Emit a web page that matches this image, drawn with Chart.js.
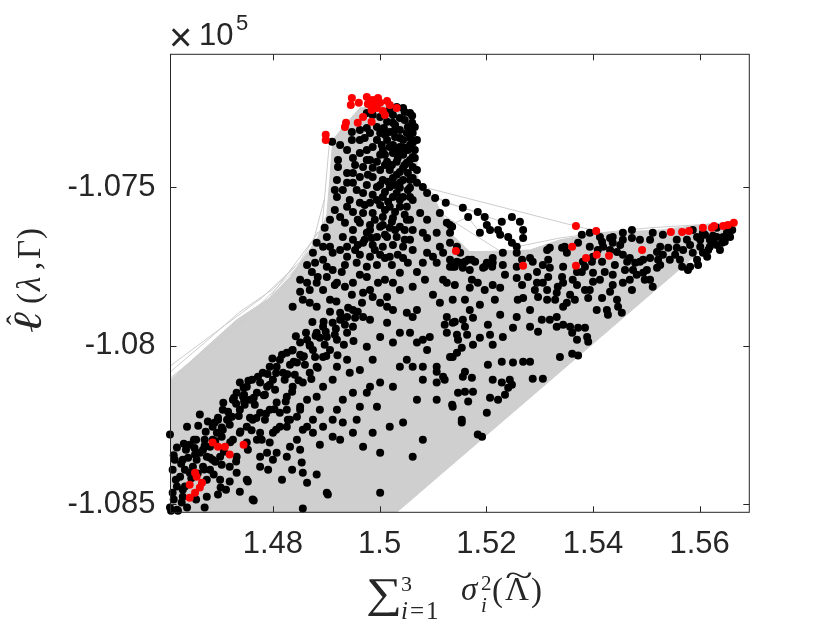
<!DOCTYPE html>
<html>
<head>
<meta charset="utf-8">
<script src="https://cdn.jsdelivr.net/npm/chart.js@4.4.1/dist/chart.umd.min.js"></script>
<style>
  html, body { margin: 0; padding: 0; background: #fff; }
  #wrap { width: 830px; height: 623px; }
</style>
</head>
<body>
<div id="wrap"><canvas id="plot" width="830" height="623"></canvas></div>
<script>
// Axis limits and ticks (y values are in units of 10^5)
const xMin = 1.4608, xMax = 1.5693;
const yMin = -1.08525, yMax = -1.07081;
const xTicks = [1.48, 1.5, 1.52, 1.54, 1.56];
const xTickLabels = ['1.48', '1.5', '1.52', '1.54', '1.56'];
const yTicks = [-1.085, -1.08, -1.075];
const yTickLabels = ['-1.085', '-1.08', '-1.075'];

// Red (highlighted) solutions
const redPts = [
  [1.4948,-1.07219],[1.4946,-1.07241],[1.4961,-1.07234],[1.4976,-1.07216],[1.4987,-1.07225],[1.4997,-1.07219],
  [1.4991,-1.07241],[1.5001,-1.07234],[1.5014,-1.07228],[1.5019,-1.07241],[1.5032,-1.07250],[1.4985,-1.07257],
  [1.5006,-1.07260],[1.5010,-1.07272],[1.4969,-1.07279],[1.4959,-1.07297],[1.4937,-1.07297],[1.4935,-1.07310],
  [1.4985,-1.07294],[1.4899,-1.07335],[1.4899,-1.07351],[1.4978,-1.07238],[1.4995,-1.07250],
  [1.5143,-1.07701],[1.5368,-1.07622],[1.5406,-1.07638],[1.5361,-1.07688],[1.5269,-1.07748],[1.5368,-1.07748],
  [1.5387,-1.07723],[1.5407,-1.07713],[1.5430,-1.07716],[1.5492,-1.07698],[1.5546,-1.07641],[1.5567,-1.07641],
  [1.5580,-1.07638],[1.5606,-1.07628],[1.5623,-1.07628],[1.5627,-1.07622],[1.5644,-1.07622],[1.5653,-1.07619],
  [1.5664,-1.07612],
  [1.4687,-1.08305],[1.4697,-1.08318],[1.4710,-1.08318],[1.4719,-1.08343],[1.4745,-1.08312],[1.4654,-1.08400],
  [1.4657,-1.08413],[1.4667,-1.08432],[1.4663,-1.08447],[1.4644,-1.08438],[1.4654,-1.08463],[1.4644,-1.08479]
];

// Black solutions: the vertical column
const columnPts = [
  [1.5032,-1.07247],[1.5044,-1.07250],[1.5057,-1.07266],[1.4976,-1.07266],[1.4987,-1.07272],[1.5001,-1.07279],
  [1.5025,-1.07272],[1.5038,-1.07282],[1.5061,-1.07297],[1.5025,-1.07297],[1.5014,-1.07294],[1.4995,-1.07310],
  [1.4976,-1.07313],[1.4963,-1.07320],[1.4948,-1.07326],[1.4982,-1.07329],[1.5001,-1.07329],[1.5019,-1.07326],
  [1.5038,-1.07320],[1.5051,-1.07329],[1.5062,-1.07329],[1.5029,-1.07342],[1.5044,-1.07351],[1.5062,-1.07360],
  [1.5014,-1.07351],[1.4995,-1.07351],[1.4963,-1.07351],[1.4948,-1.07351],[1.4926,-1.07367],[1.4911,-1.07357],
  [1.4939,-1.07383],[1.4976,-1.07383],[1.4987,-1.07373],[1.5019,-1.07373],[1.5038,-1.07373],[1.5053,-1.07383],
  [1.5066,-1.07383],[1.4963,-1.07392],[1.5001,-1.07398],[1.5025,-1.07392],[1.5044,-1.07398],[1.5062,-1.07405],
  [1.4950,-1.07408],[1.4976,-1.07414],[1.4995,-1.07420],[1.5014,-1.07420],[1.5032,-1.07420],[1.5051,-1.07423],
  [1.5062,-1.07436],[1.4969,-1.07436],[1.4987,-1.07439],[1.5019,-1.07446],[1.5038,-1.07452],[1.5053,-1.07455],
  [1.4922,-1.07414],[1.4922,-1.07436],[1.4939,-1.07455],[1.4950,-1.07455],[1.4963,-1.07468],[1.4987,-1.07468],
  [1.5006,-1.07477],[1.5025,-1.07471],[1.5044,-1.07477],[1.5062,-1.07471],[1.4920,-1.07477],[1.4939,-1.07486],
  [1.4976,-1.07493],[1.4995,-1.07499],[1.5019,-1.07499],[1.5038,-1.07502],[1.5053,-1.07509],[1.4916,-1.07509],
  [1.4931,-1.07509],[1.4957,-1.07509],[1.4969,-1.07518],[1.4987,-1.07524],[1.5006,-1.07531],[1.5025,-1.07531],
  [1.5044,-1.07531],[1.4920,-1.07531],[1.4944,-1.07540],[1.4963,-1.07549],[1.4982,-1.07549],[1.5001,-1.07556],
  [1.5019,-1.07562],[1.5038,-1.07562],[1.4939,-1.07562],[1.4950,-1.07578],[1.4969,-1.07581],[1.4987,-1.07581],
  [1.5006,-1.07594],[1.5025,-1.07597],[1.5051,-1.07603],[1.4926,-1.07594],[1.4907,-1.07603],[1.4935,-1.07612],
  [1.4963,-1.07612],[1.4982,-1.07619],[1.5001,-1.07625],[1.5019,-1.07628],[1.5038,-1.07625],[1.4950,-1.07635],
  [1.4976,-1.07644],[1.4995,-1.07657],[1.5014,-1.07657],[1.5032,-1.07657],[1.4901,-1.07657],[1.4882,-1.07675],
  [1.4894,-1.07688],[1.4907,-1.07688],[1.4926,-1.07698],[1.4939,-1.07688],[1.4950,-1.07666],[1.4969,-1.07675],
  [1.4987,-1.07682],[1.5006,-1.07688],[1.5025,-1.07682],[1.4875,-1.07707],[1.4912,-1.07707],[1.4939,-1.07719],
  [1.4963,-1.07713],[1.4982,-1.07719],[1.5001,-1.07713],[1.5019,-1.07719],[1.4957,-1.07738],[1.4976,-1.07751],
  [1.4995,-1.07745],[1.4864,-1.07745],[1.4879,-1.07738],[1.4894,-1.07729],[1.4901,-1.07751],[1.4912,-1.07761],
  [1.4929,-1.07767],[1.4873,-1.07767],[1.4884,-1.07783],[1.4901,-1.07783],[1.4851,-1.07792],[1.4864,-1.07801],
  [1.4882,-1.07801],[1.4894,-1.07824],[1.4920,-1.07801],[1.4935,-1.07814],[1.4950,-1.07801],[1.4963,-1.07776],
  [1.4976,-1.07783],[1.4982,-1.07824],[1.4969,-1.07833],[1.4987,-1.07846],[1.4967,-1.07864],[1.5001,-1.07864],
  [1.5014,-1.07846],[1.4856,-1.07855],[1.4869,-1.07864],[1.4882,-1.07877],[1.4837,-1.07877],[1.4851,-1.07830],
  [1.4997,-1.07801],
  [1.5070,-1.07486],[1.5081,-1.07499],[1.5089,-1.07518],[1.5104,-1.07534],[1.5124,-1.07549],[1.5062,-1.07540],
  [1.5051,-1.07562],[1.5076,-1.07581],[1.5089,-1.07603],[1.5113,-1.07581],[1.5126,-1.07612],[1.5136,-1.07625],
  [1.5062,-1.07635],[1.5081,-1.07644],[1.5089,-1.07660],[1.5107,-1.07644],[1.5113,-1.07688],[1.5044,-1.07688],
  [1.5062,-1.07698],[1.5089,-1.07707],[1.5100,-1.07719],[1.5119,-1.07707],[1.5132,-1.07729],[1.5053,-1.07738],
  [1.5081,-1.07738],[1.5107,-1.07738],[1.5137,-1.07751],[1.5038,-1.07770],[1.5070,-1.07767],[1.5085,-1.07792],
  [1.5119,-1.07792],[1.5025,-1.07801],[1.5038,-1.07824],[1.5062,-1.07814],[1.5113,-1.07864],[1.5070,-1.07887],
  [1.5014,-1.07877],[1.5066,-1.07310],[1.5070,-1.07351],[1.5066,-1.07408],[1.5070,-1.07446],
  [1.5126,-1.07801],[1.5137,-1.07855],[1.5100,-1.07839]
];

// Black solutions: the darkest part of the column
const columnCorePts = [
  [1.5019,-1.07257],[1.5047,-1.07263],[1.5029,-1.07304],[1.5053,-1.07310],[1.5010,-1.07335],[1.5038,-1.07345],
  [1.5057,-1.07345],[1.5025,-1.07367],[1.5047,-1.07376],[1.5010,-1.07398],[1.5034,-1.07408],[1.5057,-1.07414],
  [1.5023,-1.07430],[1.5044,-1.07439],[1.5001,-1.07446],[1.5032,-1.07461],[1.5016,-1.07483],[1.5038,-1.07486],
  [1.5057,-1.07502],[1.5010,-1.07515],[1.5032,-1.07518],[1.5057,-1.07531],[1.5016,-1.07546],[1.5038,-1.07540],
  [1.5029,-1.07578],[1.5047,-1.07587],[1.5006,-1.07619],[1.5023,-1.07609],[1.5047,-1.07635],[1.5010,-1.07650],
  [1.4991,-1.07698],[1.5010,-1.07723],[1.5034,-1.07713],[1.4982,-1.07635],[1.5047,-1.07288],[1.5057,-1.07367],
  [1.5032,-1.07383],[1.5006,-1.07383],[1.5047,-1.07430],[1.5029,-1.07493],[1.5057,-1.07477],[1.5010,-1.07572],
  [1.5029,-1.07635],[1.5047,-1.07666],[1.4991,-1.07603],[1.4972,-1.07666],[1.4954,-1.07698],
  [1.5008,-1.07313],[1.5027,-1.07323],[1.5061,-1.07275],[1.4972,-1.07345],[1.5004,-1.07367],[1.5034,-1.07389],
  [1.4982,-1.07414],[1.5010,-1.07430],[1.4954,-1.07430],[1.4978,-1.07461],[1.5001,-1.07493],[1.4950,-1.07486],
  [1.4972,-1.07556],[1.4995,-1.07540],[1.4959,-1.07603],[1.4985,-1.07660],[1.4959,-1.07682],[1.4931,-1.07657],
  [1.4916,-1.07572],[1.4897,-1.07628],[1.4935,-1.07745],[1.4916,-1.07808],[1.4948,-1.07839],[1.4869,-1.07824],
  [1.4907,-1.07855],[1.5023,-1.07745],[1.5010,-1.07792],[1.5044,-1.07723],[1.5057,-1.07603],[1.5057,-1.07666]
];

// Black solutions: the lower-left diagonal band
const bandPts = [
  [1.4607,-1.08280],[1.4620,-1.08321],[1.4639,-1.08255],[1.4663,-1.08217],[1.4644,-1.08312],[1.4616,-1.08359],
  [1.4631,-1.08359],[1.4612,-1.08391],[1.4626,-1.08413],[1.4620,-1.08444],[1.4612,-1.08463],[1.4607,-1.08510],
  [1.4620,-1.08517],[1.4631,-1.08476],[1.4635,-1.08444],[1.4644,-1.08400],[1.4650,-1.08381],[1.4657,-1.08359],
  [1.4663,-1.08337],[1.4669,-1.08328],[1.4676,-1.08350],[1.4682,-1.08318],[1.4669,-1.08381],[1.4676,-1.08422],
  [1.4687,-1.08296],[1.4687,-1.08255],[1.4695,-1.08274],[1.4704,-1.08287],[1.4706,-1.08265],[1.4714,-1.08233],
  [1.4706,-1.08202],[1.4723,-1.08224],[1.4725,-1.08170],[1.4738,-1.08202],[1.4732,-1.08148],[1.4744,-1.08161],
  [1.4738,-1.08116],[1.4751,-1.08129],[1.4761,-1.08107],[1.4757,-1.08170],[1.4770,-1.08148],[1.4776,-1.08116],
  [1.4781,-1.08085],[1.4789,-1.08129],[1.4800,-1.08107],[1.4794,-1.08066],[1.4807,-1.08066],[1.4813,-1.08044],
  [1.4819,-1.08085],[1.4826,-1.08022],[1.4837,-1.08013],[1.4845,-1.08053],[1.4851,-1.07990],[1.4864,-1.07981],
  [1.4856,-1.08035],[1.4875,-1.08013],[1.4882,-1.07959],[1.4894,-1.07940],[1.4901,-1.07972],[1.4912,-1.07927],
  [1.4926,-1.07918],[1.4926,-1.07896],[1.4939,-1.07909],[1.4950,-1.07887],[1.4959,-1.07893],[1.4969,-1.07909],
  [1.4950,-1.07940],[1.4939,-1.07959],[1.4920,-1.07981],[1.4907,-1.08013],[1.4894,-1.08035],[1.4882,-1.08066],
  [1.4869,-1.08085],[1.4856,-1.08116],[1.4837,-1.08129],[1.4826,-1.08161],[1.4807,-1.08179],[1.4794,-1.08202],
  [1.4776,-1.08211],[1.4762,-1.08233],[1.4751,-1.08255],[1.4738,-1.08274],[1.4725,-1.08296],[1.4701,-1.08350],
  [1.4687,-1.08359],[1.4682,-1.08391],[1.4676,-1.08476],[1.4701,-1.08422],[1.4719,-1.08381],[1.4732,-1.08350],
  [1.4751,-1.08305],[1.4770,-1.08296],[1.4776,-1.08274],[1.4794,-1.08305],[1.4800,-1.08274],[1.4813,-1.08255],
  [1.4832,-1.08233],[1.4845,-1.08224],[1.4875,-1.08233],[1.4888,-1.08202],[1.4920,-1.08202],[1.4931,-1.08170],
  [1.4950,-1.08148],[1.4976,-1.08148],[1.4963,-1.08192],[1.4995,-1.08192],[1.5001,-1.08116],[1.5025,-1.08129],
  [1.5038,-1.08066],[1.5051,-1.08044],[1.5062,-1.08066],[1.5070,-1.07990],[1.5089,-1.08013],[1.5107,-1.08066],
  [1.5119,-1.08098],[1.5107,-1.08116],[1.5126,-1.07959],[1.5132,-1.08035],[1.5137,-1.08192],[1.5081,-1.08296],
  [1.5062,-1.08350],[1.5001,-1.08337],[1.5001,-1.08463],[1.4901,-1.08463],[1.4856,-1.08400],[1.4854,-1.08368],
  [1.4882,-1.08406],[1.4856,-1.08513],[1.4762,-1.08485],[1.4751,-1.08422],[1.4732,-1.08400],[1.4826,-1.08350],
  [1.4807,-1.08337],[1.4789,-1.08337],[1.4776,-1.08350],[1.4851,-1.08328],[1.4832,-1.08318],[1.4845,-1.08296],
  [1.4875,-1.08274],[1.4864,-1.08255],[1.4894,-1.08255],[1.4912,-1.08233],[1.4931,-1.08242],[1.4957,-1.08233],
  [1.4987,-1.08274],[1.4969,-1.08318],[1.4950,-1.08274],[1.5025,-1.07990],[1.5038,-1.07959],[1.5014,-1.07927],
  [1.5001,-1.07972],[1.4976,-1.08003],[1.4987,-1.08044],[1.4963,-1.08076],[1.4944,-1.08085],[1.4939,-1.08044],
  [1.4920,-1.08066],[1.4912,-1.08107],[1.4894,-1.08129],[1.4882,-1.08161],[1.4864,-1.08170],[1.4851,-1.08192],
  [1.4826,-1.08202],[1.5051,-1.07896],[1.5062,-1.07909],[1.5057,-1.07959],[1.5025,-1.07887],[1.4982,-1.07918],
  [1.5126,-1.07909],[1.5137,-1.07927],[1.5081,-1.07981],[1.5094,-1.07972],[1.5145,-1.08022],[1.5122,-1.07934],
  [1.5147,-1.07981],[1.5081,-1.08066],[1.5107,-1.08082],[1.5122,-1.08107],[1.5081,-1.08107],[1.5070,-1.08170],
  [1.5107,-1.08170],[1.4982,-1.08129],[1.5019,-1.08255],[1.5044,-1.08242],[1.4864,-1.08432],[1.4903,-1.08469],
  [1.4697,-1.08469],[1.4702,-1.08447],[1.4719,-1.08428],[1.4753,-1.08428],[1.4764,-1.08488],[1.4609,-1.08520],
  [1.4622,-1.08520],[1.4856,-1.08265],[1.4912,-1.08287],[1.4800,-1.08359],[1.4776,-1.08381],[1.4826,-1.08255],
  [1.4635,-1.08391],[1.4654,-1.08343],[1.4672,-1.08296],[1.4691,-1.08242],[1.4719,-1.08249],[1.4747,-1.08186],
  [1.4766,-1.08186],[1.4785,-1.08154],[1.4804,-1.08139],[1.4822,-1.08107],[1.4841,-1.08091],[1.4860,-1.08060],
  [1.4879,-1.08035],[1.4897,-1.07997],[1.4916,-1.07965],[1.4935,-1.07934],[1.4954,-1.07912],[1.4832,-1.08060],
  [1.4851,-1.08028],[1.4869,-1.07997],[1.4888,-1.07975],[1.4757,-1.08227],[1.4785,-1.08233],[1.4813,-1.08211],
  [1.4637,-1.08328],[1.4656,-1.08296],[1.4674,-1.08271],[1.4697,-1.08233],[1.4716,-1.08208],[1.4731,-1.08183],
  [1.4746,-1.08154],[1.4682,-1.08353],[1.4704,-1.08375],[1.4731,-1.08365],[1.4753,-1.08328],[1.4779,-1.08296],
  [1.4806,-1.08265],[1.4828,-1.08233],[1.4851,-1.08202],[1.4689,-1.08406],[1.4712,-1.08454],[1.4738,-1.08460],
  [1.4656,-1.08485],[1.4672,-1.08510],[1.4791,-1.08391],[1.4817,-1.08422],[1.4836,-1.08391],[1.4888,-1.08312],
  [1.4926,-1.08296]
];

// Black solutions: the densest diagonal ridge of the band
const ridgePts = [
  [1.4628,-1.08372],[1.4641,-1.08353],[1.4653,-1.08322],[1.4672,-1.08315],[1.4692,-1.08300],[1.4704,-1.08258],
  [1.4718,-1.08226],[1.4736,-1.08221],[1.4746,-1.08176],[1.4764,-1.08164],[1.4783,-1.08156],[1.4794,-1.08123],
  [1.4806,-1.08086],[1.4827,-1.08090],[1.4839,-1.08050],[1.4858,-1.08033],[1.4869,-1.08000],[1.4880,-1.07968],
  [1.4899,-1.07956],[1.4918,-1.07946],[1.4929,-1.07912],[1.4941,-1.07880],
  [1.4614,-1.08345],[1.4633,-1.08309],[1.4652,-1.08296],[1.4660,-1.08252],[1.4678,-1.08239],[1.4697,-1.08227],
  [1.4707,-1.08180],[1.4727,-1.08164],[1.4745,-1.08132],[1.4754,-1.08110],[1.4772,-1.08098],[1.4790,-1.08089],
  [1.4799,-1.08040],[1.4817,-1.08028],[1.4836,-1.08015],[1.4843,-1.07970],[1.4862,-1.07959],[1.4874,-1.07925],
  [1.4895,-1.07924],[1.4907,-1.07893],[1.4919,-1.07860],
  [1.4647,-1.08418],[1.4659,-1.08403],[1.4671,-1.08390],[1.4692,-1.08366],[1.4708,-1.08334],[1.4720,-1.08304],
  [1.4739,-1.08270],[1.4760,-1.08266],[1.4769,-1.08228],[1.4787,-1.08214],[1.4803,-1.08200],[1.4824,-1.08176],
  [1.4836,-1.08145],[1.4848,-1.08109],[1.4872,-1.08105],[1.4884,-1.08069],[1.4900,-1.08032],[1.4921,-1.08030],
  [1.4933,-1.07997],[1.4951,-1.07985],
  [1.4614,-1.08485],[1.4629,-1.08494],[1.4639,-1.08510],[1.4618,-1.08422],[1.4631,-1.08454]
];

// Black solutions: the right wing and the loops above it
const wingPts = [
  [1.5156,-1.07565],[1.5166,-1.07594],[1.5184,-1.07578],[1.5197,-1.07594],[1.5201,-1.07619],[1.5188,-1.07644],
  [1.5207,-1.07635],[1.5229,-1.07609],[1.5248,-1.07594],[1.5263,-1.07609],[1.5269,-1.07635],[1.5269,-1.07660],
  [1.5257,-1.07688],[1.5248,-1.07675],[1.5241,-1.07657],[1.5226,-1.07650],[1.5222,-1.07635],[1.5231,-1.07707],
  [1.5212,-1.07738],[1.5197,-1.07751],[1.5179,-1.07735],[1.5160,-1.07735],[1.5145,-1.07735],[1.5132,-1.07751],
  [1.5132,-1.07619],[1.5132,-1.07644],[1.5151,-1.07707],[1.5169,-1.07761],
  [1.5173,-1.07792],[1.5169,-1.07817],[1.5184,-1.07801],[1.5212,-1.07808],[1.5226,-1.07817],[1.5216,-1.07855],
  [1.5188,-1.07871],[1.5169,-1.07887],[1.5156,-1.07918],[1.5175,-1.07912],[1.5141,-1.07924],[1.5160,-1.07940],
  [1.5145,-1.07965],[1.5164,-1.07965],[1.5188,-1.07975],[1.5203,-1.07934],[1.5207,-1.07965],[1.5226,-1.07902],
  [1.5231,-1.07972],[1.5250,-1.07943],[1.5257,-1.07909],[1.5259,-1.07855],[1.5269,-1.07849],[1.5291,-1.07824],
  [1.5297,-1.07846],[1.5314,-1.07855],[1.5282,-1.07940],[1.5297,-1.07956],[1.5304,-1.07918],[1.5319,-1.07918],
  [1.5332,-1.07909],[1.5332,-1.07940],[1.5344,-1.07934],[1.5357,-1.07940],[1.5361,-1.07959],[1.5372,-1.07943],
  [1.5385,-1.07943],[1.5389,-1.07972],[1.5370,-1.07981],[1.5391,-1.07987],[1.5338,-1.08035],[1.5361,-1.08025],
  [1.5372,-1.08031],[1.5137,-1.08035],[1.5154,-1.08006],[1.5175,-1.07997],[1.5212,-1.07997],[1.5203,-1.08060],
  [1.5229,-1.08050],[1.5250,-1.08053],[1.5269,-1.08050],[1.5282,-1.08050],[1.5160,-1.08082],[1.5156,-1.08098],
  [1.5173,-1.08101],[1.5212,-1.08107],[1.5229,-1.08116],[1.5244,-1.08107],[1.5248,-1.08123],[1.5287,-1.08104],
  [1.5306,-1.08104],[1.5241,-1.08132],[1.5235,-1.08154],[1.5222,-1.08170],[1.5207,-1.08164],[1.5160,-1.08145],
  [1.5147,-1.08148],[1.5175,-1.08145],[1.5166,-1.08176],[1.5136,-1.08186],[1.5201,-1.08211],[1.5154,-1.08233],
  [1.5154,-1.08242],[1.5184,-1.08280],[1.5192,-1.08287],
  [1.5141,-1.07751],[1.5156,-1.07754],[1.5173,-1.07729],[1.5194,-1.07754],[1.5211,-1.07751],[1.5231,-1.07745],
  [1.5257,-1.07751],[1.5278,-1.07783],[1.5257,-1.07786],[1.5267,-1.07808],[1.5295,-1.07767],[1.5295,-1.07801],
  [1.5306,-1.07801],[1.5316,-1.07783],[1.5314,-1.07824],[1.5319,-1.07754],[1.5316,-1.07729],[1.5314,-1.07698],
  [1.5342,-1.07691],[1.5351,-1.07707],[1.5344,-1.07751],[1.5342,-1.07783],[1.5344,-1.07801],[1.5334,-1.07814],
  [1.5332,-1.07833],[1.5370,-1.07767],[1.5362,-1.07792],[1.5370,-1.07808],[1.5351,-1.07864],[1.5344,-1.07877],
  [1.5366,-1.07855],[1.5379,-1.07767],[1.5385,-1.07751],[1.5400,-1.07770],[1.5400,-1.07798],[1.5394,-1.07824],
  [1.5391,-1.07849],[1.5417,-1.07849],[1.5407,-1.07887],[1.5426,-1.07887],[1.5428,-1.07902],[1.5422,-1.07767],
  [1.5437,-1.07776],[1.5437,-1.07808],[1.5432,-1.07830],[1.5445,-1.07855],[1.5447,-1.07877],[1.5454,-1.07896],
  [1.5456,-1.07801],[1.5473,-1.07824],[1.5469,-1.07792],[1.5482,-1.07776],[1.5494,-1.07770],[1.5507,-1.07792],
  [1.5512,-1.07814],[1.5501,-1.07761],[1.5520,-1.07754],[1.5475,-1.07761],[1.5398,-1.07735],[1.5417,-1.07735],
  [1.5441,-1.07745],[1.5409,-1.07698],[1.5419,-1.07688],[1.5437,-1.07675],[1.5451,-1.07682],[1.5469,-1.07723],
  [1.5479,-1.07738],[1.5464,-1.07735],[1.5494,-1.07729],[1.5507,-1.07723],[1.5522,-1.07729],[1.5531,-1.07713],
  [1.5541,-1.07691],[1.5557,-1.07691],[1.5569,-1.07698],[1.5563,-1.07729],[1.5567,-1.07751],[1.5578,-1.07761],
  [1.5544,-1.07729],[1.5526,-1.07688],[1.5507,-1.07666],[1.5488,-1.07666],[1.5473,-1.07660],[1.5512,-1.07644],
  [1.5531,-1.07650],[1.5557,-1.07666],[1.5576,-1.07666],[1.5595,-1.07657],[1.5606,-1.07644],[1.5619,-1.07666],
  [1.5632,-1.07657],[1.5644,-1.07657],[1.5651,-1.07644],[1.5657,-1.07635],[1.5601,-1.07688],[1.5587,-1.07707],
  [1.5606,-1.07707],[1.5595,-1.07729],[1.5619,-1.07688],[1.5632,-1.07682],[1.5638,-1.07698],[1.5614,-1.07719],
  [1.5597,-1.07745],[1.5582,-1.07751],[1.5520,-1.07704],[1.5456,-1.07713],[1.5445,-1.07704],[1.5432,-1.07698],
  [1.5456,-1.07644],[1.5473,-1.07635],[1.5456,-1.07666],[1.5432,-1.07660],[1.5417,-1.07672],[1.5400,-1.07719],
  [1.5381,-1.07735],[1.5394,-1.07688],[1.5379,-1.07650],[1.5394,-1.07644],[1.5587,-1.07635],[1.5632,-1.07628],
  [1.5661,-1.07635],[1.5132,-1.07675],[1.5145,-1.07688],[1.5151,-1.07738],[1.5166,-1.07729],[1.5201,-1.07738],
  [1.5212,-1.07723],[1.5257,-1.07707],[1.5267,-1.07729],[1.5282,-1.07723],[1.5287,-1.07735],[1.5306,-1.07745],
  [1.5319,-1.07691],[1.5347,-1.07688],[1.5372,-1.07675],[1.5413,-1.07657],[1.5437,-1.07657],[1.5625,-1.07675],
  [1.5647,-1.07672],[1.5657,-1.07657],[1.5610,-1.07650],
  [1.5601,-1.07666],[1.5625,-1.07653],[1.5642,-1.07675],[1.5616,-1.07698],[1.5582,-1.07682],[1.5554,-1.07713],
  [1.5526,-1.07745],[1.5497,-1.07792],[1.5488,-1.07735],[1.5460,-1.07761],[1.5413,-1.07792],[1.5385,-1.07824],
  [1.5357,-1.07839],[1.5329,-1.07855],[1.5282,-1.07887],[1.5235,-1.07776],[1.5197,-1.07824],[1.5160,-1.07855],
  [1.5141,-1.07808]
];

// Outline of the region densely covered by the grey trajectories
const bandOutline = [
  [1.4608,-1.08525],[1.4608,-1.08107],[1.4669,-1.08013],[1.4732,-1.07918],[1.4794,-1.07849],[1.4832,-1.07783],
  [1.4882,-1.07666],[1.4901,-1.07587],[1.4907,-1.07468],[1.4912,-1.07351],[1.4935,-1.07304],[1.4963,-1.07250],
  [1.5029,-1.07241],[1.5066,-1.07288],[1.5072,-1.07477],[1.5104,-1.07540],[1.5136,-1.07650],[1.5169,-1.07704],
  [1.5282,-1.07698],[1.5338,-1.07666],[1.5413,-1.07644],[1.5526,-1.07635],[1.5601,-1.07619],[1.5666,-1.07609],
  [1.5032,-1.08525],[1.4608,-1.08525]
];

// Individual grey trajectories outside the dense region
const trails = [
  [[1.4608,-1.08082],[1.4672,-1.07990],[1.4738,-1.07893],[1.4798,-1.07824],[1.4843,-1.07748]],
  [[1.4608,-1.08063],[1.4691,-1.07959],[1.4779,-1.07849],[1.4851,-1.07735],[1.4884,-1.07641]],
  [[1.4608,-1.08132],[1.4710,-1.07975],[1.4813,-1.07833],[1.4873,-1.07698]],
  [[1.4626,-1.08082],[1.4757,-1.07902],[1.4869,-1.07713],[1.4896,-1.07540]],
  [[1.4608,-1.08101],[1.4791,-1.07855],[1.4892,-1.07628],[1.4903,-1.07414],[1.4907,-1.07342]],
  [[1.5070,-1.07486],[1.5124,-1.07549],[1.5156,-1.07565],[1.5184,-1.07578],[1.5197,-1.07594],[1.5201,-1.07619],
   [1.5188,-1.07644],[1.5166,-1.07594],[1.5132,-1.07619]],
  [[1.5104,-1.07534],[1.5229,-1.07609],[1.5248,-1.07594],[1.5263,-1.07609],[1.5269,-1.07635],[1.5269,-1.07660],
   [1.5257,-1.07688],[1.5248,-1.07675],[1.5241,-1.07657],[1.5226,-1.07650],[1.5222,-1.07635],[1.5207,-1.07635]],
  [[1.5081,-1.07499],[1.5366,-1.07622],[1.5406,-1.07638]],
  [[1.5113,-1.07581],[1.5231,-1.07707],[1.5314,-1.07698],[1.5361,-1.07688]],
  [[1.5126,-1.07612],[1.5143,-1.07701],[1.5231,-1.07707]],
  [[1.5257,-1.07688],[1.5338,-1.07660],[1.5413,-1.07644],[1.5507,-1.07628],[1.5662,-1.07612]]
];

const toXY = arr => arr.map(p => ({ x: p[0], y: p[1] }));

const tickFont = { family: "'Liberation Sans', Arial, Helvetica, sans-serif", size: 31 };
const mathFont = "'Liberation Serif', 'DejaVu Serif', serif";
const ink = '#262626';

// draws a run of [text, font, gap] pieces one after another from (x, y)
function drawRun(ctx, x, y, pieces) {
  pieces.forEach(p => {
    ctx.font = p[1];
    x += (p[2] || 0);
    ctx.fillText(p[0], x, y);
    x += ctx.measureText(p[0]).width;
  });
  return x;
}

// Box, inward ticks, exponent and the math axis labels
const framePlugin = {
  id: 'frame',
  afterDraw(chart) {
    const { ctx, chartArea: a, scales } = chart;
    const xs = scales.x, ys = scales.y;
    ctx.save();
    ctx.strokeStyle = ink;
    ctx.lineWidth = 1;
    ctx.strokeRect(a.left, a.top, a.right - a.left, a.bottom - a.top);
    ctx.beginPath();
    xTicks.forEach(v => {
      const px = Math.round(xs.getPixelForValue(v)) + 0.5;
      ctx.moveTo(px, a.bottom); ctx.lineTo(px, a.bottom - 6);
      ctx.moveTo(px, a.top); ctx.lineTo(px, a.top + 6);
    });
    yTicks.forEach(v => {
      const py = Math.round(ys.getPixelForValue(v)) + 0.5;
      ctx.moveTo(a.left, py); ctx.lineTo(a.left + 6, py);
      ctx.moveTo(a.right, py); ctx.lineTo(a.right - 6, py);
    });
    ctx.stroke();

    ctx.fillStyle = ink;
    ctx.textBaseline = 'alphabetic';
    ctx.textAlign = 'left';

    // x 10^5 multiplier
    ctx.font = "40px 'Liberation Sans', Arial, sans-serif";
    ctx.fillText('\u00d7', 169, 51);
    ctx.font = "31px 'Liberation Sans', Arial, sans-serif";
    ctx.fillText('10', 199, 45);
    ctx.font = "22px 'Liberation Sans', Arial, sans-serif";
    ctx.fillText('5', 236, 30);

    // x label: sum_{i=1}^3 sigma_i^2(tilde Lambda)
    ctx.save();
    ctx.translate(366, 607);
    ctx.scale(1.2, 1);
    ctx.font = '42px ' + mathFont;
    ctx.fillText('\u2211', 0, 0);
    ctx.restore();
    ctx.font = '22px ' + mathFont;
    ctx.fillText('3', 401, 591);
    drawRun(ctx, 401, 619, [
      ['i', 'italic 25px ' + mathFont],
      ['=', '25px ' + mathFont, 2],
      ['1', '25px ' + mathFont, 2]
    ]);
    ctx.font = 'italic 33px ' + mathFont;
    ctx.fillText('\u03c3', 461, 600);
    ctx.font = '21px ' + mathFont;
    ctx.fillText('2', 481, 590);
    ctx.font = 'italic 21px ' + mathFont;
    ctx.fillText('i', 481, 612);
    ctx.font = '33px ' + mathFont;
    ctx.fillText('(', 492, 601);
    ctx.fillText('\u039b', 505, 600);
    ctx.fillText(')', 531, 601);
    ctx.save();
    ctx.translate(505, 586);
    ctx.scale(1.6, 1);
    ctx.font = '32px ' + mathFont;
    ctx.fillText('~', 0, 0);
    ctx.restore();

    // y label: hat ell (lambda, Gamma), rotated
    ctx.save();
    ctx.translate(27, 283);
    ctx.rotate(-Math.PI / 2);
    ctx.save();
    ctx.translate(-50, 14);
    ctx.scale(1.25, 1);
    ctx.font = 'italic 40px ' + mathFont;
    ctx.fillText('\u2113', 0, 0);
    ctx.restore();
    ctx.font = '30px ' + mathFont;
    ctx.fillText('\u02c6', -42, 0);
    ctx.font = '33px ' + mathFont;
    ctx.fillText('(', -21, 13);
    ctx.font = 'italic 33px ' + mathFont;
    ctx.fillText('\u03bb', -8, 13);
    ctx.font = '33px ' + mathFont;
    ctx.fillText(',', 13, 13);
    ctx.fillText('\u0393', 24, 13);
    ctx.fillText(')', 44, 13);
    ctx.restore();

    ctx.restore();
  }
};

const dotStyle = { pointRadius: 4, pointHoverRadius: 4, borderWidth: 0, showLine: false, clip: false };

const datasets = [
  Object.assign({ label: 'red', data: toXY(redPts), backgroundColor: '#ff0000', order: 0 }, dotStyle),
  Object.assign({ label: 'column', data: toXY(columnPts), backgroundColor: '#000000', order: 1 }, dotStyle),
  Object.assign({ label: 'core', data: toXY(columnCorePts), backgroundColor: '#000000', order: 1 }, dotStyle),
  Object.assign({ label: 'band', data: toXY(bandPts), backgroundColor: '#000000', order: 1 }, dotStyle),
  Object.assign({ label: 'ridge', data: toXY(ridgePts), backgroundColor: '#000000', order: 1 }, dotStyle),
  Object.assign({ label: 'wing', data: toXY(wingPts), backgroundColor: '#000000', order: 1 }, dotStyle)
];
trails.forEach((t, i) => {
  datasets.push({
    label: 'trail' + i, data: toXY(t), showLine: true, fill: false,
    borderColor: '#cdcdcd', borderWidth: 1, pointRadius: 0, tension: 0, order: 2
  });
});
datasets.push({
  label: 'envelope', data: toXY(bandOutline), showLine: true, fill: 'shape',
  backgroundColor: '#cfcfcf', borderColor: '#cfcfcf', borderWidth: 1, pointRadius: 0, tension: 0, order: 3
});

new Chart(document.getElementById('plot').getContext('2d'), {
  type: 'scatter',
  data: { datasets },
  options: {
    responsive: false,
    animation: false,
    events: [],
    layout: { padding: { left: 0, right: 80.7, top: 54.3, bottom: 0 } },
    plugins: { legend: { display: false }, tooltip: { enabled: false } },
    scales: {
      x: {
        type: 'linear', min: xMin, max: xMax,
        afterFit(s) { s.height = 110.7; },
        afterBuildTicks(s) { s.ticks = xTicks.map(v => ({ value: v })); },
        ticks: {
          callback: v => xTickLabels[xTicks.indexOf(v)],
          font: tickFont, color: ink, padding: 14, maxRotation: 0, autoSkip: false
        },
        grid: { display: false, drawTicks: false },
        border: { display: false }
      },
      y: {
        type: 'linear', min: yMin, max: yMax,
        afterFit(s) { s.width = 170.5; },
        afterBuildTicks(s) { s.ticks = yTicks.map(v => ({ value: v })); },
        ticks: {
          callback: v => yTickLabels[yTicks.indexOf(v)],
          font: tickFont, color: ink, padding: 15, autoSkip: false
        },
        grid: { display: false, drawTicks: false },
        border: { display: false }
      }
    }
  },
  plugins: [framePlugin]
});
</script>
</body>
</html>
